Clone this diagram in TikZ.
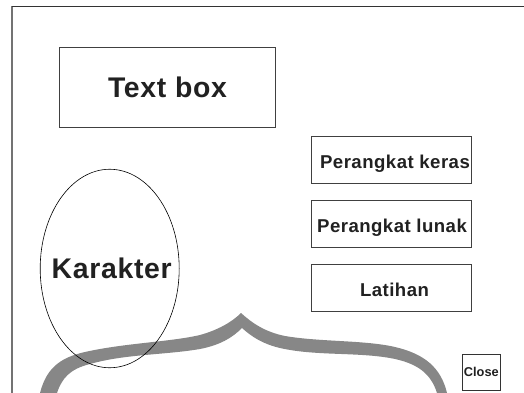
\documentclass[tikz,border=0pt]{standalone}
\usepackage{fontspec}
\setmainfont{Liberation Sans}
\newfontfamily\spacedfont[LetterSpace=2.5]{Liberation Sans}
\usetikzlibrary{positioning,shapes.geometric}
\definecolor{framegray}{gray}{0.45}
\definecolor{scangray}{gray}{0.53}
\definecolor{inkgray}{gray}{0.13}
\tikzset{
  menubox/.style={draw=black!75, line width=0.7pt, minimum width=160pt, minimum height=47pt, inner sep=0pt, text=inkgray, text height=17.5pt, text depth=0pt, font=\spacedfont\bfseries\fontsize{18.6}{20}\selectfont},
  bigtext/.style={text=inkgray, font=\spacedfont\bfseries\fontsize{28.4}{30}\selectfont},
}
\begin{document}
\begin{tikzpicture}[x=1pt, y=-1pt]
        \useasboundingbox (0,0) rectangle (524,393);
        \fill[white] (0,0) rectangle (524,393);
        % frame lines
        \draw[framegray, line width=1.1pt] (12,393) -- (12,6);
        \draw[black!80, line width=0.9pt] (12,6) -- (524,6);
        % left and right half of the scanned ornament
        \fill[scangray] (40,393) .. controls (46,370) and (58,358) .. (85,352) .. controls (125,343) and (170,342) .. (200,335) .. controls (218,330) and (232,322) .. (241,313)
          .. controls (252,323) and (265,332) .. (285,336) .. controls (320,342) and (365,340) .. (395,347) .. controls (425,354) and (441,368) .. (447,393)
          -- (437,393) .. controls (431,374) and (418,363) .. (390,358) .. controls (355,352) and (315,356) .. (280,348) .. controls (263,344) and (252,337) .. (242,328)
          .. controls (232,338) and (220,345) .. (200,349) .. controls (165,355) and (125,354) .. (90,364) .. controls (70,369) and (62,378) .. (57,393) -- cycle;
        \node[draw=black!75, line width=0.7pt, minimum width=216pt, minimum height=79.5pt, inner sep=0pt, bigtext] (textbox) at (167.5,87.3) {Text box};
        \node[draw, shape=ellipse, line width=0.6pt, minimum width=139pt, minimum height=198.5pt, inner sep=0pt, label={[bigtext, xshift=2pt]center:Karakter}] (karakter) at (109.7,268.5) {};
        \node[menubox] (keras) at (391.5,159.7) {\hspace{7pt}Perangkat keras};
        \node[menubox] (lunak) [below=16.5pt of keras] {\hspace{1pt}Perangkat lunak};
        \node[menubox] (latihan) [below=16.5pt of lunak] {\hspace{6pt}Latihan};
        \node[draw=black!80, line width=0.7pt, minimum width=38pt, minimum height=36pt, inner sep=0pt, text=inkgray, font=\bfseries\fontsize{12.8}{14}\selectfont] (close) at (481.3,372.3) {Close};
\end{tikzpicture}
\end{document}
